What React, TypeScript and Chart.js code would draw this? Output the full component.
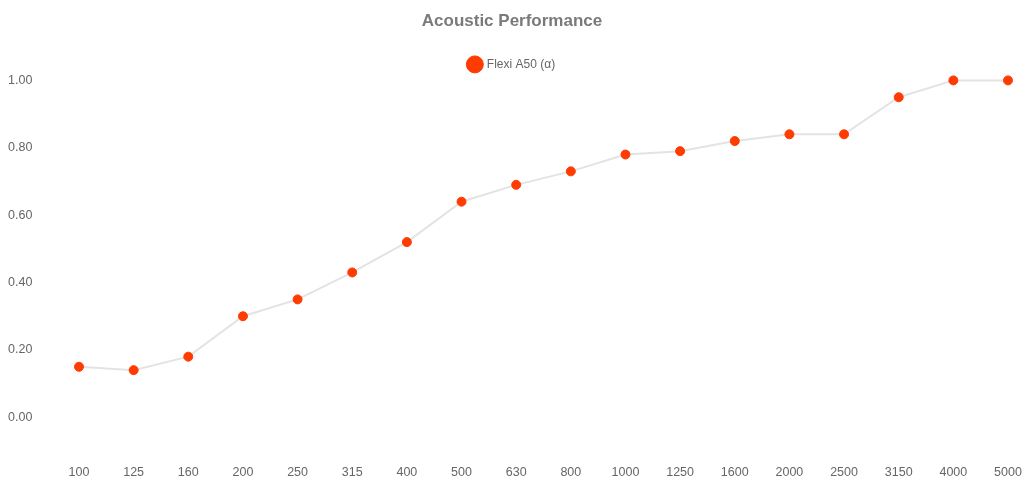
import React, { useEffect, useRef } from "react";
import { Chart, registerables } from "chart.js";

Chart.register(...registerables);

const categories = ["100", "125", "160", "200", "250", "315", "400", "500", "630", "800", "1000", "1250", "1600", "2000", "2500", "3150", "4000", "5000"];
const absorption = [0.15, 0.14, 0.18, 0.30, 0.35, 0.43, 0.52, 0.64, 0.69, 0.73, 0.78, 0.79, 0.82, 0.84, 0.84, 0.95, 1.00, 1.00];
const yTicks = [0, 0.2, 0.4, 0.6, 0.8, 1.0];
const seriesName = "Flexi A50 (α)";
const titleText = "Acoustic Performance";

export default function App() {
  const ref = useRef<HTMLCanvasElement | null>(null);
  useEffect(() => {
    if (!ref.current) return;
    const font = "'Liberation Sans', Arial, Helvetica, sans-serif";
    const chart = new Chart(ref.current, {
      type: "line",
      data: {
        labels: categories,
        datasets: [
          {
            label: seriesName,
            data: absorption,
            borderColor: "#e3e3e3",
            borderWidth: 2,
            backgroundColor: "#ff3c00",
            pointBackgroundColor: "#ff3c00",
            pointBorderColor: "#ff3c00",
            pointRadius: 4.5,
            pointBorderWidth: 1,
            fill: false,
            tension: 0,
            clip: false,
          },
        ],
      },
      options: {
        animation: false,
        responsive: false,
        maintainAspectRatio: false,
        layout: { padding: { left: 8, right: 8, top: 0, bottom: 0 } },
        plugins: {
          title: {
            display: true,
            text: titleText,
            color: "#7a7a7a",
            font: { family: font, size: 17, weight: "bold" },
            padding: { top: 11, bottom: 14 },
          },
          legend: {
            display: true,
            labels: {
              usePointStyle: true,
              pointStyle: "circle",
              padding: 13,
              color: "#666",
              font: { family: font, size: 12 },
            },
          },
          tooltip: { enabled: false },
        },
        scales: {
          x: {
            offset: false,
            grid: { display: false, drawTicks: false },
            border: { display: false },
            afterFit: (scale: any) => {
              scale.height = 35;
              scale.paddingLeft = 0;
              scale.paddingRight = 16;
            },
            ticks: { color: "#666", font: { family: font, size: 12.5 }, padding: 14, maxRotation: 0, autoSkip: false },
          },
          y: {
            min: -0.1,
            max: 1.0,
            grid: { display: false, drawTicks: false },
            border: { display: false },
            afterBuildTicks: (scale: any) => {
              scale.ticks = yTicks.map((v) => ({ value: v }));
            },
            afterFit: (scale: any) => {
              scale.width = 71;
            },
            ticks: {
              color: "#666",
              font: { family: font, size: 12.5 },
              crossAlign: "far",
              callback: (v: any) => Number(v).toFixed(2),
            },
          },
        },
      },
    } as any);
    return () => chart.destroy();
  }, []);
  return (
    <div style={{ position: "absolute", left: 0, top: 0, width: 1024, height: 486, background: "#fff" }}>
      <canvas ref={ref} width={1024} height={486} style={{ width: 1024, height: 486 }} />
    </div>
  );
}
